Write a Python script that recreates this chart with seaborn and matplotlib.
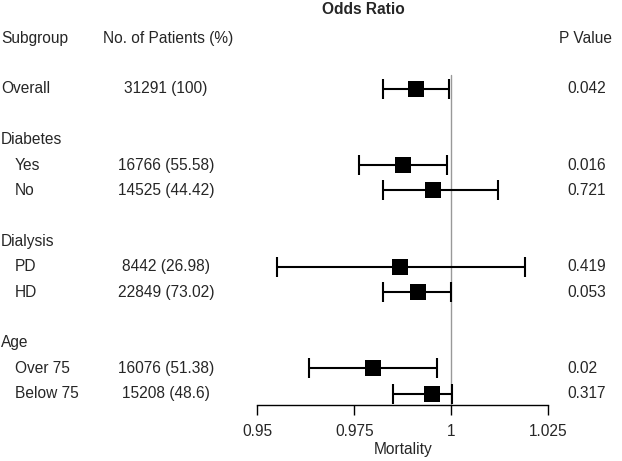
import numpy as np
import pandas as pd
import matplotlib
matplotlib.use("Agg")
import matplotlib.pyplot as plt
import matplotlib.transforms as mtransforms
import seaborn as sns

# Data
labels = ["Overall", "Diabetes", "Yes", "No", "Dialysis", "PD", "HD", "Age", "Over 75", "Below 75"]
is_header = [False, True, False, False, True, False, False, True, False, False]
rows = [2, 4, 5, 6, 8, 9, 10, 12, 13, 14]
patients = ["31291 (100)", "", "16766 (55.58)", "14525 (44.42)", "", "8442 (26.98)",
            "22849 (73.02)", "", "16076 (51.38)", "15208 (48.6)"]
odds = [0.991, None, 0.9876, 0.9952, None, 0.9867, 0.9913, None, 0.9798, 0.995]
lower = [0.9824, None, 0.9763, 0.9824, None, 0.9552, 0.9824, None, 0.9634, 0.985]
upper = [0.9994, None, 0.9989, 1.012, None, 1.0189, 0.9999, None, 0.9963, 1.0002]
pvals = ["0.042", "", "0.016", "0.721", "", "0.419", "0.053", "", "0.02", "0.317"]
ticks = [0.95, 0.975, 1.0, 1.025]
tick_labels = ["0.95", "0.975", "1", "1.025"]

df = pd.DataFrame({"label": labels, "row": rows, "n": patients, "or": odds,
                   "lo": lower, "hi": upper, "p": pvals, "header": is_header})
est = df.dropna(subset=["or"])

sns.set_style("white")
plt.rcParams["font.family"] = ["Liberation Sans", "DejaVu Sans"]
fs = 11.2

W, H = 622, 461
fig = plt.figure(figsize=(W / 100, H / 100), dpi=100)
ax = fig.add_axes([0, 56 / H, 1, 405 / H])

# pixel -> data mapping for x
px_per_unit = 3880.0
x0 = 1 + (0 - 451.3) / px_per_unit
x1 = 1 + (W - 451.3) / px_per_unit
ax.set_xlim(x0, x1)
ax.set_ylim(14.45, -1.5)

ax.axvline(1.0, ymin=0, ymax=(14.45 - 1.45) / 15.95, color="#999999", lw=1, zorder=1)

ax.errorbar(est["or"], est["row"],
            xerr=[est["or"] - est["lo"], est["hi"] - est["or"]],
            fmt="none", ecolor="black", elinewidth=1.5, capsize=7.5, capthick=1.5, zorder=2)
sns.scatterplot(data=est, x="or", y="row", marker="s", s=120, color="black",
                edgecolor="black", linewidth=0, ax=ax, zorder=3, legend=False)

trans = mtransforms.blended_transform_factory(fig.transFigure, ax.transData)
for _, r in df.iterrows():
    indent = 0 if (r["header"] or r["label"] == "Overall") else 14
    ax.text((1 + indent) / W, r["row"], r["label"], transform=trans,
            ha="left", va="center", fontsize=fs)
    if r["n"]:
        ax.text(166 / W, r["row"], r["n"], transform=trans,
                ha="center", va="center", fontsize=fs)
    if r["p"]:
        ax.text(567 / W, r["row"], r["p"], transform=trans,
                ha="left", va="center", fontsize=fs)

ax.text(1 / W, 0, "Subgroup", transform=trans, ha="left", va="center", fontsize=fs)
ax.text(103 / W, 0, "No. of Patients (%)", transform=trans, ha="left", va="center", fontsize=fs)
ax.text(612 / W, 0, "P Value", transform=trans, ha="right", va="center", fontsize=fs)
fig.text(363 / W, 1 - 10 / H, "Odds Ratio", ha="center", va="center",
         fontsize=fs, fontweight="bold")

for s in ["top", "right", "left"]:
    ax.spines[s].set_visible(False)
ax.spines["bottom"].set_bounds(0.95, 1.025)
ax.spines["bottom"].set_color("black")
ax.spines["bottom"].set_linewidth(1)
ax.set_xticks(ticks)
ax.set_xticklabels(tick_labels, fontsize=fs)
ax.tick_params(axis="x", direction="out", length=7.5, width=1, color="black", pad=6, bottom=True)
ax.set_yticks([])
ax.set_ylabel("")
ax.set_xlabel("Mortality", fontsize=fs, labelpad=2)
ax.xaxis.label.set_x(403 / W)

fig.savefig("out.png", dpi=100)
